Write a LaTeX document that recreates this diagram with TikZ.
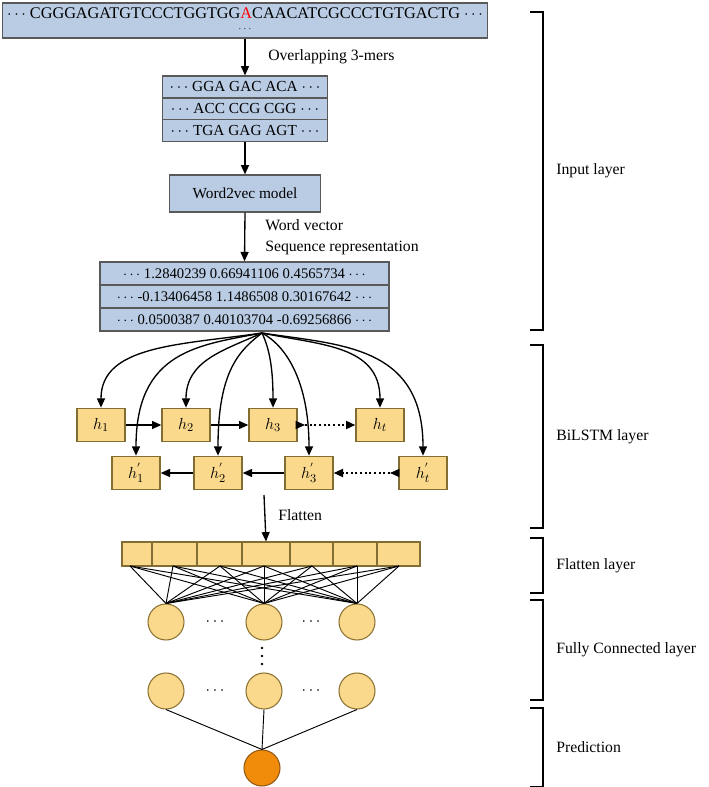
\documentclass[tikz,border=0pt]{standalone}
\usepackage{fontspec}
\setmainfont{Liberation Serif}
\usetikzlibrary{arrows.meta}
\begin{document}
\begin{tikzpicture}[x=0.75pt,y=-0.75pt,
  bx/.style={draw=black!65,fill={rgb,255:red,185;green,204;blue,228},line width=1.1pt,inner sep=0pt},
  yb/.style={draw={rgb,255:red,130;green,110;blue,50},fill={rgb,255:red,250;green,216;blue,140},line width=1pt,minimum width=36pt,minimum height=25pt,inner sep=0pt,font=\fontsize{13}{13}\selectfont},
  cir/.style={circle,draw={rgb,255:red,140;green,115;blue,50},fill={rgb,255:red,250;green,216;blue,140},minimum size=27pt,inner sep=0pt,line width=0.8pt},
  arr/.style={-{Triangle[length=7pt,width=6pt]},line width=1pt},
  lbl/.style={font=\fontsize{11.8}{13}\selectfont,anchor=west,inner sep=0pt},
  fc/.style={line width=0.7pt}]
\useasboundingbox (0,0) rectangle (708,787);
% top sequence
\node[bx,minimum width=364pt,minimum height=26pt] (seq) at (245,20.5) {};
\node[font=\fontsize{12.2}{13}\selectfont,inner sep=0pt] (seqt) at (245,13) {$\cdots$ CGGGAGATGTCCCTGGTGG{\color{red}A}CAACATCGCCCTGTGACTG $\cdots$};
\node[inner sep=0pt,font=\scriptsize] (seqd) at (245,29) {$\cdots$};
% 3-mers
\foreach \i/\t in {0/GGA GAC ACA,1/ACC CCG CGG,2/TGA GAG AGT}{
  \node[bx,minimum width=124pt,minimum height=16.3pt,font=\fontsize{11.5}{12}\selectfont] (m\i) at (245,87+\i*21.7) {$\cdots$ \t{} $\cdots$};}
\node[bx,minimum width=113pt,minimum height=27.5pt,font=\fontsize{11.5}{12}\selectfont] (w2v) at (245,193.5) {Word2vec model};
\foreach \i/\t in {0/1.2840239 0.66941106 0.4565734,1/-0.13406458 1.1486508 0.30167642,2/0.0500387 0.40103704 -0.69256866}{
  \node[bx,minimum width=217pt,minimum height=17.2pt,font=\fontsize{11}{12}\selectfont] (v\i) at (244.5,273.5+\i*23) {$\cdots$ \t{} $\cdots$};}
\draw[arr] (seq.south) -- (m0.north);
\node[lbl] (l1) at (268,57) {Overlapping 3-mers};
\draw[arr] (m2.south) -- (w2v.north);
\draw[arr] (w2v.south) -- (v0.north);
\node[lbl] (l2) at (265,225) {Word vector};
\node[lbl] (l3) at (265,248) {Sequence representation};
% BiLSTM
\coordinate (hub) at (262,333);
\foreach \n/\x/\s in {h1/101/1,h2/186/2,h3/273/3,ht/380/t}{
  \node[yb] (\n) at (\x,425) {$h_{\s}$};}
\foreach \n/\x/\s in {p1/136/1,p2/218/2,p3/309/3,pt/423/t}{
  \node[yb] (\n) at (\x,473) {$h^{'}_{\s}$};}
\draw[arr] (hub) .. controls (180,345) and (101,345) .. (h1.north);
\draw[arr] (hub) .. controls (200,345) and (136,350) .. (p1.north);
\draw[arr] (hub) .. controls (225,350) and (186,360) .. (h2.north);
\draw[arr] (hub) .. controls (240,350) and (218,370) .. (p2.north);
\draw[arr] (hub) .. controls (270,350) and (273,370) .. (h3.north);
\draw[arr] (hub) .. controls (285,345) and (309,380) .. (p3.north);
\draw[arr] (hub) .. controls (320,345) and (380,345) .. (ht.north);
\draw[arr] (hub) .. controls (340,345) and (423,345) .. (pt.north);
\draw[arr] (h1) -- (h2);
\draw[arr] (h2) -- (h3);
\coordinate (d1) at (305,425);
\draw[arr] (h3.east) -- (d1);
\draw[line width=1.5pt,dotted,-{Triangle[length=7pt,width=6pt]}] (d1) -- (ht.west);
\draw[arr] (p2) -- (p1);
\draw[arr] (p3) -- (p2);
\coordinate (d2) at (390,473);
\draw[arr] (pt.west) -- (d2);
\draw[line width=1.5pt,dotted,-{Triangle[length=7pt,width=6pt]}] (d2) -- (p3.east);
% flatten
\coordinate (fs) at (264,495);
\foreach \i/\a/\b in {1/122/152,2/152/197,3/197/242,4/242/290,5/290/333,6/333/377,7/377/420}{
  \node[draw={rgb,255:red,130;green,110;blue,50},fill={rgb,255:red,250;green,216;blue,140},line width=0.8pt,inner sep=0pt,minimum width={(\b-\a)*0.75pt},minimum height=18pt] (f\i) at ({(\a+\b)/2},554) {};}
\draw[arr] (fs) -- (f4.north);
\node[lbl] (l4) at (278,515) {Flatten};
% FC
\foreach \n/\x in {a/166,b/264,c/357}{
  \node[cir] (c1\n) at (\x,622) {};
  \node[cir] (c2\n) at (\x,691) {};}
\node[circle,draw={rgb,255:red,150;green,90;blue,20},fill={rgb,255:red,240;green,140;blue,10},minimum size=27pt,inner sep=0pt,line width=0.8pt] (out) at (262,768) {};
\foreach \x/\k in {130/1,173/2,220/3,264/4,312/5,357/6,399/7}{
  \coordinate (fp\k) at (\x,566);
  \foreach \n in {a,b,c}{\draw[fc] (fp\k) -- (c1\n.north);}}
\foreach \n in {a,b,c}{\draw[fc] (c2\n.south) -- (out.north);}
\foreach \y/\r in {622/1,691/2}{
  \node[inner sep=0pt,font=\large] (da\r) at (215,\y) {$\cdots$};
  \node[inner sep=0pt,font=\large] (db\r) at (311,\y) {$\cdots$};}
\foreach \y in {648,656,664}{\fill (262,\y) circle (1.1pt);}
% brackets
\foreach \a/\b/\t/\n in {12/330/Input layer/bi,345/528/BiLSTM layer/bb,538/593/Flatten layer/bf,600/700/Fully Connected layer/bc,708/787/Prediction/bp}{
  \draw[line width=1.2pt] (530,\a) -- (543,\a) -- (543,\b) -- (530,\b);
  \node[lbl] (\n) at (556,{(\a+\b)/2}) {\t};}
\end{tikzpicture}
\end{document}
